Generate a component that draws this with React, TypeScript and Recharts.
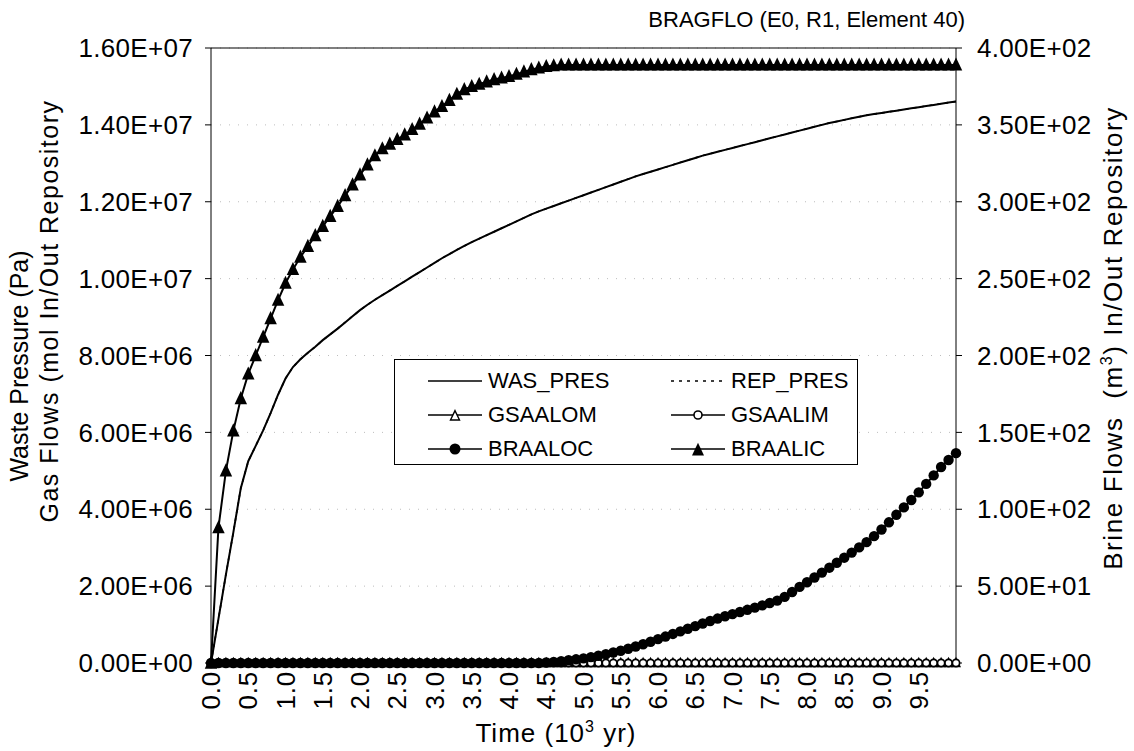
import React from 'react';
import { LineChart, Line, XAxis, YAxis, CartesianGrid, Legend, Label, ReferenceLine } from 'recharts';

// time (10^3 yr), one point every 0.1
const TIME = [
  0.0, 0.1, 0.2, 0.3, 0.4, 0.5, 0.6, 0.7, 0.8, 0.9,
  1.0, 1.1, 1.2, 1.3, 1.4, 1.5, 1.6, 1.7, 1.8, 1.9,
  2.0, 2.1, 2.2, 2.3, 2.4, 2.5, 2.6, 2.7, 2.8, 2.9,
  3.0, 3.1, 3.2, 3.3, 3.4, 3.5, 3.6, 3.7, 3.8, 3.9,
  4.0, 4.1, 4.2, 4.3, 4.4, 4.5, 4.6, 4.7, 4.8, 4.9,
  5.0, 5.1, 5.2, 5.3, 5.4, 5.5, 5.6, 5.7, 5.8, 5.9,
  6.0, 6.1, 6.2, 6.3, 6.4, 6.5, 6.6, 6.7, 6.8, 6.9,
  7.0, 7.1, 7.2, 7.3, 7.4, 7.5, 7.6, 7.7, 7.8, 7.9,
  8.0, 8.1, 8.2, 8.3, 8.4, 8.5, 8.6, 8.7, 8.8, 8.9,
  9.0, 9.1, 9.2, 9.3, 9.4, 9.5, 9.6, 9.7, 9.8, 9.9,
  10.0,
];

// waste pressure (Pa)
const WAS_PRES = [
  0, 1.15e6, 2.3e6, 3.4e6, 4.55e6, 5.25e6, 5.65e6, 6.05e6, 6.5e6, 6.98e6,
  7.4e6, 7.7e6, 7.9e6, 8.07e6, 8.23e6, 8.4e6, 8.55e6, 8.7e6, 8.86e6, 9.02e6,
  9.18e6, 9.32e6, 9.45e6, 9.57e6, 9.69e6, 9.81e6, 9.93e6, 10.05e6, 10.17e6, 10.29e6,
  10.41e6, 10.53e6, 10.64e6, 10.75e6, 10.85e6, 10.95e6, 11.04e6, 11.13e6, 11.22e6, 11.31e6,
  11.4e6, 11.49e6, 11.58e6, 11.67e6, 11.75e6, 11.82e6, 11.89e6, 11.96e6, 12.03e6, 12.1e6,
  12.17e6, 12.24e6, 12.31e6, 12.38e6, 12.45e6, 12.52e6, 12.59e6, 12.66e6, 12.72e6, 12.78e6,
  12.84e6, 12.9e6, 12.96e6, 13.02e6, 13.08e6, 13.14e6, 13.2e6, 13.25e6, 13.3e6, 13.35e6,
  13.4e6, 13.45e6, 13.5e6, 13.55e6, 13.6e6, 13.65e6, 13.7e6, 13.75e6, 13.8e6, 13.85e6,
  13.9e6, 13.95e6, 14.0e6, 14.05e6, 14.09e6, 14.13e6, 14.17e6, 14.21e6, 14.25e6, 14.28e6,
  14.31e6, 14.34e6, 14.37e6, 14.4e6, 14.43e6, 14.46e6, 14.49e6, 14.52e6, 14.55e6, 14.58e6,
  14.61e6,
];

// repository pressure sits under the waste pressure curve
const REP_PRES = WAS_PRES;

// gas flows (mol), flat at zero
const GSAALOM = [
  0, 0, 0, 0, 0, 0, 0, 0, 0, 0,
  0, 0, 0, 0, 0, 0, 0, 0, 0, 0,
  0, 0, 0, 0, 0, 0, 0, 0, 0, 0,
  0, 0, 0, 0, 0, 0, 0, 0, 0, 0,
  0, 0, 0, 0, 0, 0, 0, 0, 0, 0,
  0, 0, 0, 0, 0, 0, 0, 0, 0, 0,
  0, 0, 0, 0, 0, 0, 0, 0, 0, 0,
  0, 0, 0, 0, 0, 0, 0, 0, 0, 0,
  0, 0, 0, 0, 0, 0, 0, 0, 0, 0,
  0, 0, 0, 0, 0, 0, 0, 0, 0, 0,
  0,
];
const GSAALIM = [
  0, 0, 0, 0, 0, 0, 0, 0, 0, 0,
  0, 0, 0, 0, 0, 0, 0, 0, 0, 0,
  0, 0, 0, 0, 0, 0, 0, 0, 0, 0,
  0, 0, 0, 0, 0, 0, 0, 0, 0, 0,
  0, 0, 0, 0, 0, 0, 0, 0, 0, 0,
  0, 0, 0, 0, 0, 0, 0, 0, 0, 0,
  0, 0, 0, 0, 0, 0, 0, 0, 0, 0,
  0, 0, 0, 0, 0, 0, 0, 0, 0, 0,
  0, 0, 0, 0, 0, 0, 0, 0, 0, 0,
  0, 0, 0, 0, 0, 0, 0, 0, 0, 0,
  0,
];

// brine flows (m3)
const BRAALOC = [
  0, 0, 0, 0, 0, 0, 0, 0, 0, 0,
  0, 0, 0, 0, 0, 0, 0, 0, 0, 0,
  0, 0, 0, 0, 0, 0, 0, 0, 0, 0,
  0, 0, 0, 0, 0, 0, 0, 0, 0, 0,
  0, 0, 0, 0, 0, 0.3, 0.7, 1.2, 1.8, 2.4,
  3.0, 3.8, 4.7, 5.7, 6.8, 8.0, 9.3, 10.7, 12.2, 13.8,
  15.5, 17.2, 18.9, 20.6, 22.3, 24.0, 25.7, 27.3, 28.9, 30.4,
  31.8, 33.2, 34.6, 36.0, 37.5, 39.0, 40.6, 43.0, 46.2, 49.5,
  52.5, 55.6, 58.8, 62.0, 65.2, 68.5, 71.8, 75.2, 78.6, 82.5,
  86.8, 91.5, 96.4, 101.2, 106.0, 111.0, 116.5, 122.0, 127.5, 132.0,
  136.5,
];
const BRAALIC = [
  0, 88, 125, 151, 172, 188, 200, 212, 224, 236,
  247, 256, 264, 271, 278, 284, 290.5, 297, 304, 311,
  317.5, 324, 330, 334.5, 337.5, 340.5, 343.5, 347, 350.5, 354.5,
  358.5, 362, 366, 370, 373, 375, 376.5, 378, 379.5, 380.5,
  381.5, 383, 384.5, 386, 387, 388, 388.5, 389, 389, 389,
  389, 389, 389, 389, 389, 389, 389, 389, 389, 389,
  389, 389, 389, 389, 389, 389, 389, 389, 389, 389,
  389, 389, 389, 389, 389, 389, 389, 389, 389, 389,
  389, 389, 389, 389, 389, 389, 389, 389, 389, 389,
  389, 389, 389, 389, 389, 389, 389, 389, 389, 389,
  389,
];

const LEFT_TICKS = [0, 2e6, 4e6, 6e6, 8e6, 1e7, 1.2e7, 1.4e7, 1.6e7];
const RIGHT_TICKS = [0, 50, 100, 150, 200, 250, 300, 350, 400];

const data = TIME.map((t, i) => ({
  t,
  was: WAS_PRES[i],
  rep: REP_PRES[i],
  gsaalom: GSAALOM[i],
  gsaalim: GSAALIM[i],
  braaloc: BRAALOC[i],
  braalic: BRAALIC[i],
}));

const FONT = '"Liberation Sans", Arial, sans-serif';

const fmtExp = (v: number) => {
  const [m, e] = v.toExponential(2).split('e');
  const n = parseInt(e, 10);
  return `${m}E${n < 0 ? '-' : '+'}${String(Math.abs(n)).padStart(2, '0')}`;
};

// marker shapes
const triPoints = (cx: number, cy: number, s: number) =>
  `${cx},${cy - s * 0.6} ${cx - s / 2},${cy + s * 0.45} ${cx + s / 2},${cy + s * 0.45}`;

const filledTri = (p: any) =>
  p.cx == null ? null : <polygon key={`ft-${p.index}`} points={triPoints(p.cx, p.cy, 12.5)} fill="#000" />;
const openTri = (p: any) =>
  p.cx == null ? null : (
    <polygon key={`ot-${p.index}`} points={triPoints(p.cx, p.cy, 8)} fill="#fff" stroke="#000" strokeWidth={1.3} />
  );
const filledDot = (p: any) =>
  p.cx == null ? null : <circle key={`fd-${p.index}`} cx={p.cx} cy={p.cy} r={5.2} fill="#000" />;
const openDot = (p: any) =>
  p.cx == null ? null : (
    <circle key={`od-${p.index}`} cx={p.cx} cy={p.cy} r={3.6} fill="#fff" stroke="#000" strokeWidth={1.7} />
  );

const legendItems = [
  { name: 'WAS_PRES', dash: undefined, marker: null },
  { name: 'REP_PRES', dash: '3 5', marker: null },
  { name: 'GSAALOM', dash: undefined, marker: 'openTri' },
  { name: 'GSAALIM', dash: undefined, marker: 'openDot' },
  { name: 'BRAALOC', dash: undefined, marker: 'filledDot' },
  { name: 'BRAALIC', dash: undefined, marker: 'filledTri' },
];

const LegendSample = ({ dash, marker }: { dash?: string; marker: string | null }) => (
  <svg width={54} height={20} style={{ display: 'block' }}>
    <line x1={0} y1={10} x2={54} y2={10} stroke="#000" strokeWidth={1.6} strokeDasharray={dash} />
    {marker === 'openTri' && <polygon points={triPoints(27, 11, 9)} fill="#fff" stroke="#000" strokeWidth={1.4} />}
    {marker === 'openDot' && <circle cx={27} cy={10} r={4} fill="#fff" stroke="#000" strokeWidth={1.6} />}
    {marker === 'filledDot' && <circle cx={27} cy={10} r={5.5} fill="#000" />}
    {marker === 'filledTri' && <polygon points={triPoints(27, 11, 12)} fill="#000" />}
  </svg>
);

const renderLegend = () => (
  <div
    style={{
      border: '1px solid #000',
      background: '#fff',
      display: 'grid',
      gridTemplateColumns: '243px 186px',
      rowGap: 9,
      padding: '8px 0 3px 33px',
      fontFamily: FONT,
      fontSize: 22,
      lineHeight: '25px',
      color: '#000',
    }}
  >
    {legendItems.map((it) => (
      <div key={it.name} style={{ display: 'flex', alignItems: 'center', gap: 6 }}>
        <LegendSample dash={it.dash} marker={it.marker} />
        <span>{it.name}</span>
      </div>
    ))}
  </div>
);

const XTick = (props: any) => {
  const { x, y, payload } = props;
  const v = payload.value as number;
  const major = Math.abs(v * 2 - Math.round(v * 2)) < 1e-6 && v < 9.99;
  if (!major) return <g />;
  return (
    <text
      x={x}
      y={y + 2}
      transform={`rotate(-90 ${x} ${y + 2})`}
      textAnchor="end"
      dy="0.35em"
      fontSize={26}
      letterSpacing={0.8}
      fontFamily={FONT}
      fill="#000"
    >
      {v.toFixed(1)}
    </text>
  );
};

const tickStyle = { fontSize: 26, fontFamily: FONT, fill: '#000', letterSpacing: 0.3 };

export default function App() {
  return (
    <div style={{ position: 'absolute', left: 0, top: 0, width: 1134, height: 751, background: '#fff' }}>
      <LineChart width={1134} height={751} data={data} margin={{ top: 48, right: 0, bottom: 0, left: 0 }}>
        <CartesianGrid yAxisId="left" vertical={false} stroke="#bdbdbd" strokeDasharray="1 8" />
        <XAxis
          dataKey="t"
          type="number"
          domain={[0, 10]}
          ticks={TIME}
          interval={0}
          height={88}
          stroke="#000"
          tickSize={4}
          tick={<XTick />}
        >
          <Label
            content={() => (
              <text x={556} y={742} textAnchor="middle" fontSize={26} letterSpacing={1} fontFamily={FONT} fill="#000">
                Time (10<tspan dy={-10} fontSize={16}>3</tspan>
                <tspan dy={10}> yr)</tspan>
              </text>
            )}
          />
        </XAxis>
        <YAxis
          yAxisId="left"
          width={211}
          domain={[0, 1.6e7]}
          ticks={LEFT_TICKS}
          tickFormatter={fmtExp}
          tick={tickStyle}
          tickSize={6}
          tickMargin={12}
          stroke="#000"
        >
          <Label
            content={() => (
              <g fontFamily={FONT} fill="#000" fontSize={25}>
                <text x={19} y={366} transform="rotate(-90 19 366)" textAnchor="middle" dy="0.35em">
                  Waste Pressure (Pa)
                </text>
                <text
                  x={49}
                  y={311}
                  transform="rotate(-90 49 311)"
                  textAnchor="middle"
                  dy="0.35em"
                  letterSpacing={1.5}
                >
                  Gas Flows (mol In/Out Repository
                </text>
              </g>
            )}
          />
        </YAxis>
        <YAxis
          yAxisId="right"
          orientation="right"
          width={178}
          domain={[0, 400]}
          ticks={RIGHT_TICKS}
          tickFormatter={fmtExp}
          tick={tickStyle}
          tickSize={6}
          tickMargin={15}
          stroke="#000"
        >
          <Label
            content={() => (
              <text
                x={1113}
                y={338}
                transform="rotate(-90 1113 338)"
                textAnchor="middle"
                dy="0.35em"
                fontSize={26}
                letterSpacing={1.6}
                fontFamily={FONT}
                fill="#000"
              >
                Brine Flows {'\u00a0'}(m<tspan dy={-10} fontSize={16}>3</tspan>
                <tspan dy={10}>) In/Out Repository</tspan>
              </text>
            )}
          />
        </YAxis>
        <ReferenceLine yAxisId="left" y={1.6e7} stroke="#000" strokeWidth={1.2}>
          <Label
            content={() => (
              <text x={965} y={27} textAnchor="end" fontSize={22} fontFamily={FONT} fill="#000">
                BRAGFLO (E0, R1, Element 40)
              </text>
            )}
          />
        </ReferenceLine>
        <Legend
          layout="horizontal"
          verticalAlign="middle"
          align="center"
          wrapperStyle={{ left: 394, top: 359, width: 'auto' }}
          content={renderLegend}
        />
        <Line yAxisId="left" dataKey="rep" stroke="#000" strokeWidth={1.6} strokeDasharray="3 5" dot={false} isAnimationActive={false} />
        <Line yAxisId="left" dataKey="gsaalom" stroke="#000" strokeWidth={1.6} dot={openTri} isAnimationActive={false} />
        <Line yAxisId="left" dataKey="gsaalim" stroke="#000" strokeWidth={1.6} dot={openDot} isAnimationActive={false} />
        <Line yAxisId="right" dataKey="braaloc" stroke="#000" strokeWidth={2} dot={filledDot} isAnimationActive={false} />
        <Line yAxisId="left" dataKey="was" stroke="#000" strokeWidth={2} dot={false} isAnimationActive={false} />
        <Line yAxisId="right" dataKey="braalic" stroke="#000" strokeWidth={2} dot={filledTri} isAnimationActive={false} />
      </LineChart>
    </div>
  );
}
